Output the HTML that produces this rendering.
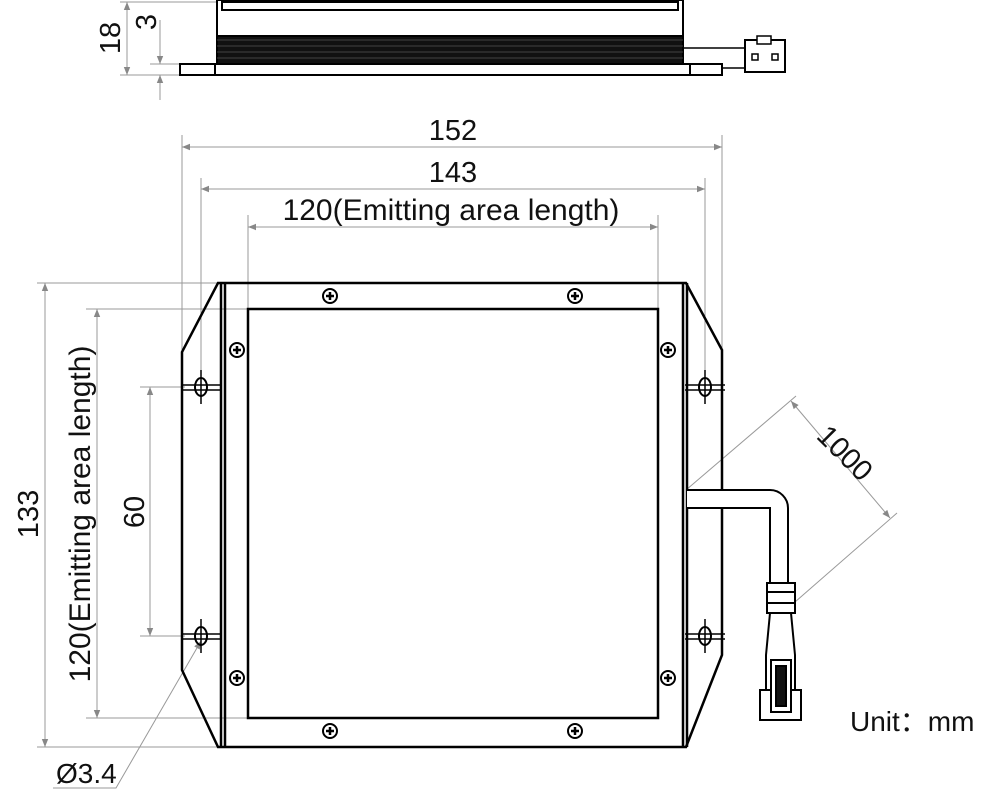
<!DOCTYPE html>
<html><head><meta charset="utf-8"><style>
body{margin:0;background:#fff;width:1000px;height:807px;overflow:hidden}
text{font-family:"Liberation Sans",sans-serif;fill:#111}
</style></head><body>
<svg width="1000" height="807" viewBox="0 0 1000 807" xmlns="http://www.w3.org/2000/svg">
<defs>
<marker id="a" viewBox="0 0 10 10" refX="10" refY="5" markerWidth="18" markerHeight="8" orient="auto-start-reverse" markerUnits="userSpaceOnUse"><path d="M0,1 L10,5 L0,9 z" fill="#888"/></marker>
<g id="scr"><circle r="7" fill="#fff" stroke="#000" stroke-width="2"/><path d="M-4,0H4M0,-4V4" stroke="#000" stroke-width="2.5"/></g>
<g id="hole"><ellipse rx="6" ry="9" fill="none" stroke="#000" stroke-width="2"/><path d="M-20,-2H20M-20,3H20" stroke="#000" stroke-width="1.5"/><path d="M0,-17V17" stroke="#000" stroke-width="1.5"/></g>
</defs>
<g stroke="#999" stroke-width="1" fill="none">
<line x1="120" y1="2" x2="217" y2="2"/><line x1="120" y1="75" x2="180" y2="75"/><line x1="150" y1="64" x2="180" y2="64"/>
<line x1="127" y1="2" x2="127" y2="75" marker-start="url(#a)" marker-end="url(#a)"/>
<line x1="160" y1="20" x2="160" y2="64" marker-end="url(#a)"/>
<line x1="160" y1="100" x2="160" y2="75" marker-end="url(#a)"/>
<line x1="182" y1="135" x2="182" y2="350"/><line x1="722" y1="135" x2="722" y2="350"/>
<line x1="182" y1="147" x2="722" y2="147" marker-start="url(#a)" marker-end="url(#a)"/>
<line x1="201" y1="178" x2="201" y2="370"/><line x1="705" y1="178" x2="705" y2="370"/>
<line x1="201" y1="189" x2="705" y2="189" marker-start="url(#a)" marker-end="url(#a)"/>
<line x1="248" y1="215" x2="248" y2="309"/><line x1="658" y1="215" x2="658" y2="309"/>
<line x1="248" y1="227" x2="658" y2="227" marker-start="url(#a)" marker-end="url(#a)"/>
<line x1="37" y1="283" x2="218" y2="283"/><line x1="37" y1="747" x2="218" y2="747"/>
<line x1="45" y1="283" x2="45" y2="747" marker-start="url(#a)" marker-end="url(#a)"/>
<line x1="86" y1="309" x2="248" y2="309"/><line x1="86" y1="718" x2="248" y2="718"/>
<line x1="97" y1="309" x2="97" y2="718" marker-start="url(#a)" marker-end="url(#a)"/>
<line x1="140" y1="387" x2="185" y2="387"/><line x1="140" y1="636" x2="185" y2="636"/>
<line x1="150" y1="387" x2="150" y2="636" marker-start="url(#a)" marker-end="url(#a)"/>
<line x1="686" y1="490" x2="796" y2="396"/><line x1="795" y1="602" x2="897" y2="513"/>
<line x1="791" y1="401" x2="890" y2="518" marker-start="url(#a)" marker-end="url(#a)"/>
<polyline points="53,788 116,788 201,641" marker-end="url(#a)"/>
</g>
<g stroke="#000" stroke-width="2" fill="#fff">
<rect x="217" y="0" width="466" height="36"/>
<rect x="222" y="2" width="456" height="8"/>
<rect x="217" y="36" width="466" height="28" fill="#111"/>
<rect x="180" y="64" width="542" height="11"/>
<line x1="215" y1="64" x2="215" y2="75"/><line x1="690" y1="64" x2="690" y2="75"/>
<path d="M683,48H745M722,68H745" fill="none" stroke-width="1.5"/>
<rect x="745" y="40" width="40" height="32"/>
<rect x="757" y="36" width="14" height="8" stroke-width="1.5"/>
<rect x="752" y="54" width="6" height="6" stroke-width="1.5"/><rect x="772" y="54" width="6" height="6" stroke-width="1.5"/>
</g>
<g stroke="#555" stroke-width="0.8"><line x1="217" y1="40" x2="683" y2="40"/><line x1="217" y1="46" x2="683" y2="46"/><line x1="217" y1="52" x2="683" y2="52"/><line x1="217" y1="58" x2="683" y2="58"/></g>
<g stroke="#000" stroke-width="2.5" fill="none">
<path d="M218,283 H686 L722,350 V655 L686,747 H218 L182,670 V352 Z"/>
<line x1="221" y1="283" x2="221" y2="747"/><line x1="225" y1="283" x2="225" y2="747"/>
<line x1="683" y1="283" x2="683" y2="747"/><line x1="687" y1="283" x2="687" y2="747"/>
<rect x="248" y="309" width="410" height="409"/>
</g>
<use href="#hole" x="201" y="387"/><use href="#hole" x="201" y="636"/><use href="#hole" x="705" y="387"/><use href="#hole" x="705" y="636"/>
<use href="#scr" x="330" y="296"/><use href="#scr" x="575" y="296"/><use href="#scr" x="237" y="350"/><use href="#scr" x="668" y="350"/>
<use href="#scr" x="237" y="678"/><use href="#scr" x="668" y="678"/><use href="#scr" x="330" y="731"/><use href="#scr" x="575" y="731"/>
<g stroke="#000" stroke-width="2" fill="#fff">
<path d="M687,490 H770 A18,18 0 0 1 788,508 V585 H770 V508 H687"/>
<rect x="767" y="583" width="28" height="30"/>
<path d="M767,592H795M767,603H795" fill="none"/>
<path d="M770,613 L766,655 V690 H795 V655 L791,613 Z"/>
<rect x="760" y="690" width="41" height="30"/>
<rect x="771" y="660" width="20" height="52"/>
<rect x="776" y="666" width="10" height="40" fill="#111"/>
</g>
<text x="453" y="140" font-size="29" text-anchor="middle">152</text>
<text x="453" y="182" font-size="29" text-anchor="middle">143</text>
<text x="451" y="220" font-size="30" text-anchor="middle">120(Emitting area length)</text>
<text font-size="29" text-anchor="middle" transform="translate(38,514) rotate(-90)">133</text>
<text font-size="30" text-anchor="middle" transform="translate(90,514) rotate(-90)">120(Emitting area length)</text>
<text font-size="29" text-anchor="middle" transform="translate(144,512) rotate(-90)">60</text>
<text font-size="29" text-anchor="middle" transform="translate(120,38) rotate(-90)">18</text>
<text font-size="29" text-anchor="middle" transform="translate(156,22) rotate(-90)">3</text>
<text font-size="29" text-anchor="middle" transform="translate(838,460) rotate(45)">1000</text>
<text x="56" y="783" font-size="28">Ø3.4</text>
<text x="850" y="731" font-size="28">Unit：mm</text>
</svg>
</body></html>
